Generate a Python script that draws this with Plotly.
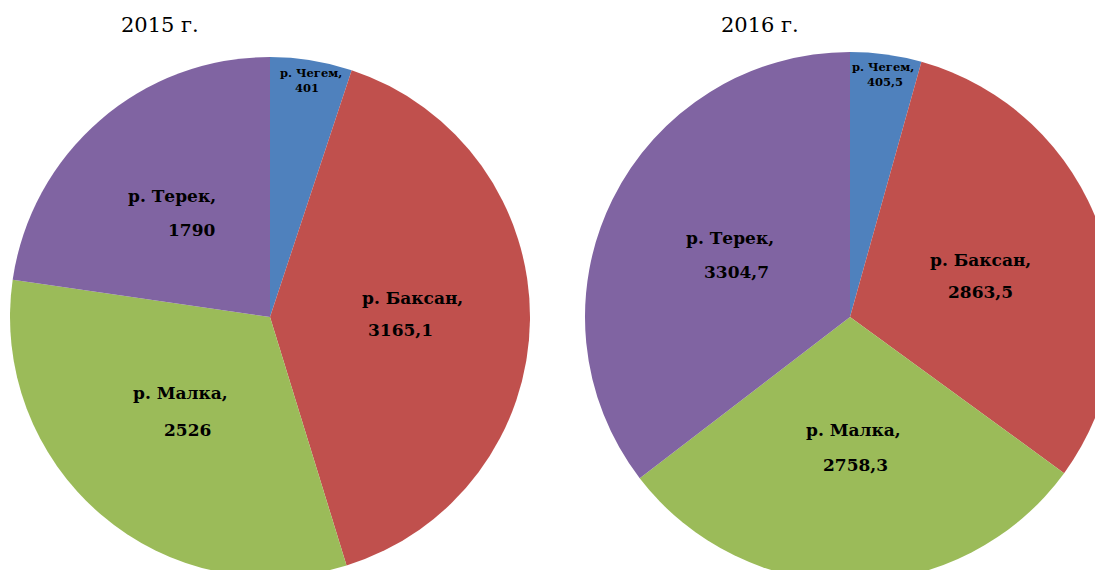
import plotly.graph_objects as go

rivers = ["р. Чегем", "р. Баксан", "р. Малка", "р. Терек"]
values_2015 = [401, 3165.1, 2526, 1790]
values_2016 = [405.5, 2863.5, 2758.3, 3304.7]
labels_2015 = ["401", "3165,1", "2526", "1790"]
labels_2016 = ["405,5", "2863,5", "2758,3", "3304,7"]
years = ["2015 г.", "2016 г."]
colors = ["#4F81BD", "#C0504D", "#9BBB59", "#8064A2"]

W, H = 1111, 580
OFF = 8  # page body margin
FONT = "DejaVu Serif"

def dom(cx, cy, r):
    # screen-pixel circle -> paper domain
    x0, x1 = cx - OFF - r, cx - OFF + r
    y0, y1 = cy - OFF - r, cy - OFF + r
    return dict(x=[x0 / W, x1 / W], y=[1 - y1 / H, 1 - y0 / H])

fig = go.Figure()
fig.add_trace(go.Pie(
    labels=rivers, values=values_2015, sort=False, direction="clockwise", rotation=0,
    marker=dict(colors=colors, line=dict(width=0)), textinfo="none", showlegend=False,
    domain=dom(270, 317, 260),
))
fig.add_trace(go.Pie(
    labels=rivers, values=values_2016, sort=False, direction="clockwise", rotation=0,
    marker=dict(colors=colors, line=dict(width=0)), textinfo="none", showlegend=False,
    domain=dom(850, 317, 265),
))

def px(x, y):
    return (x - OFF) / W, 1 - (y - OFF) / H

annotations = []
def add(text, x, y, size):
    ax, ay = px(x, y)
    annotations.append(dict(text=text, x=ax, y=ay, xref="paper", yref="paper",
                            showarrow=False, xanchor="center", yanchor="middle",
                            font=dict(family=FONT, size=size, color="#000000")))

# label positions in screen pixels (name line, value line, font size)
pos_2015 = [((311, 73), (307, 88), 11.5), ((412, 298), (400, 330), 17),
            ((180, 393), (187, 430), 17), ((172, 196), (191, 230), 17)]
pos_2016 = [((883, 67), (885, 82), 11.5), ((980, 260), (980, 292), 17),
            ((853, 430), (855, 465), 17), ((730, 238), (736, 272), 17)]

for names, vals, poss in [(rivers, labels_2015, pos_2015), (rivers, labels_2016, pos_2016)]:
    for n, v, (p1, p2, s) in zip(names, vals, poss):
        add("<b>" + n + ",</b>", p1[0], p1[1], s)
        add("<b>" + v + "</b>", p2[0], p2[1], s)

for yr, x in zip(years, [160, 760]):
    ax, ay = px(x, 25)
    annotations.append(dict(text=yr, x=ax, y=ay, xref="paper", yref="paper",
                            showarrow=False, xanchor="center", yanchor="middle",
                            font=dict(family=FONT, size=21, color="#000000")))

fig.update_layout(width=W, height=H, margin=dict(l=0, r=0, t=0, b=0),
                  paper_bgcolor="white", plot_bgcolor="white", annotations=annotations)
fig.write_html("out.html")
